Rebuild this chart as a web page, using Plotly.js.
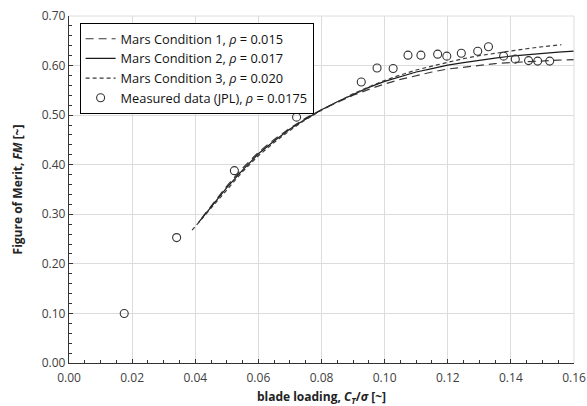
<!DOCTYPE html>
<html><head><meta charset="utf-8">
<script src="https://cdn.plot.ly/plotly-3.0.1.min.js"></script>
<style>html,body{margin:0;padding:0;background:#fff}#c{width:587px;height:406px}</style>
</head><body><div id="c"></div>
<script>
const cond1X = [0.042,0.045,0.050,0.055,0.060,0.065,0.070,0.075,0.080,0.085,0.090,0.095,0.100,0.105,0.110,0.115,0.120,0.125,0.130,0.135,0.140,0.145,0.150,0.155,0.160];
const cond1Y = [0.292,0.316,0.357,0.393,0.425,0.451,0.474,0.494,0.511,0.526,0.540,0.552,0.563,0.572,0.580,0.587,0.593,0.597,0.601,0.604,0.606,0.608,0.610,0.611,0.612];
const cond2X = [0.041,0.045,0.050,0.055,0.060,0.065,0.070,0.075,0.080,0.085,0.090,0.095,0.100,0.105,0.110,0.115,0.120,0.125,0.130,0.135,0.140,0.145,0.150,0.155,0.160];
const cond2Y = [0.283,0.315,0.354,0.389,0.422,0.448,0.472,0.492,0.511,0.527,0.542,0.556,0.568,0.578,0.587,0.594,0.601,0.606,0.611,0.615,0.619,0.622,0.625,0.627,0.629];
const cond3X = [0.039,0.045,0.050,0.055,0.060,0.065,0.070,0.075,0.080,0.085,0.090,0.095,0.100,0.105,0.110,0.115,0.120,0.125,0.130,0.135,0.140,0.145,0.150,0.156];
const cond3Y = [0.268,0.312,0.350,0.386,0.418,0.445,0.469,0.491,0.510,0.527,0.543,0.557,0.570,0.581,0.591,0.599,0.607,0.614,0.620,0.625,0.630,0.634,0.638,0.642];
const measX = [0.0175,0.0341,0.0524,0.0721,0.0926,0.0976,0.1027,0.1074,0.1115,0.1168,0.1197,0.1243,0.1295,0.1329,0.1377,0.1414,0.1456,0.1485,0.1523];
const measY = [0.100,0.253,0.388,0.496,0.567,0.595,0.594,0.621,0.621,0.623,0.619,0.625,0.629,0.638,0.619,0.613,0.610,0.609,0.609];
const names = ['Mars Condition 1, <i>ρ</i> = 0.015','Mars Condition 2, <i>ρ</i> = 0.017','Mars Condition 3, <i>ρ</i> = 0.020','Measured data (JPL), <i>ρ</i> = 0.0175'];
const xTicks = [0,0.02,0.04,0.06,0.08,0.10,0.12,0.14,0.16];
const yTicks = [0,0.1,0.2,0.3,0.4,0.5,0.6,0.7];

const traces = [
 {x:cond1X,y:cond1Y,name:names[0],mode:'lines',line:{color:'#3a3a3a',width:1.2,dash:'8px,5px'}},
 {x:cond2X,y:cond2Y,name:names[1],mode:'lines',line:{color:'#1a1a1a',width:1.2}},
 {x:cond3X,y:cond3Y,name:names[2],mode:'lines',line:{color:'#3a3a3a',width:1.2,dash:'4px,3px'}},
 {x:measX,y:measY,name:names[3],mode:'markers',marker:{symbol:'circle-open',size:8,color:'#333',line:{width:1.1,color:'#333'}}}
];
const font = {family:'"Open Sans", "Noto Sans", sans-serif', size:12, color:'#404040'};
const layout = {
 width:587,height:406,
 margin:{l:69,r:13,t:16,b:43},
 paper_bgcolor:'#fff',plot_bgcolor:'#fff',
 font:font,
 showlegend:true,
 legend:{x:0.021,y:0.98,xanchor:'left',yanchor:'top',bgcolor:'#fff',bordercolor:'#000',borderwidth:1,
   font:{family:font.family,size:12.8,color:'#111'},tracegroupgap:0,itemwidth:30},
 xaxis:{range:[0,0.16],tickvals:xTicks,ticktext:xTicks.map(v=>v.toFixed(2)),ticklabeloverflow:'allow',
   showgrid:true,gridcolor:'#dcdcdc',gridwidth:1,zeroline:false,ticklabelstandoff:3,
   showline:true,linecolor:'#333',linewidth:1.2,ticks:'inside',ticklen:4,tickcolor:'#333',
   minor:{dtick:0.005,ticks:'inside',ticklen:3,tickcolor:'#333',showgrid:false},
   tickfont:{size:12,color:'#404040'},
   title:{text:'<b>blade loading, <i>C</i><sub><i>T</i></sub>/<i>σ</i> [~]</b>',font:{size:12,color:'#222'},standoff:10}},
 yaxis:{range:[0,0.70],tickvals:yTicks,ticktext:yTicks.map(v=>v.toFixed(2)),
   showgrid:true,gridcolor:'#dcdcdc',gridwidth:1,zeroline:false,
   showline:true,linecolor:'#333',linewidth:1.2,ticks:'inside',ticklen:4,tickcolor:'#333',
   minor:{dtick:0.02,ticks:'inside',ticklen:3,tickcolor:'#333',showgrid:false},
   tickfont:{size:12,color:'#404040'},
   title:{text:'<b>Figure of Merit, <i>FM</i> [~]</b>',font:{size:12,color:'#222'},standoff:16}},
 shapes:[
  {type:'line',xref:'paper',yref:'paper',x0:0,x1:1,y0:1,y1:1,line:{color:'#dcdcdc',width:1}},
  {type:'line',xref:'paper',yref:'paper',x0:1,x1:1,y0:0,y1:1,line:{color:'#dcdcdc',width:1}}
 ]
};
Plotly.newPlot('c',traces,layout,{displayModeBar:false,staticPlot:true});
</script></body></html>
